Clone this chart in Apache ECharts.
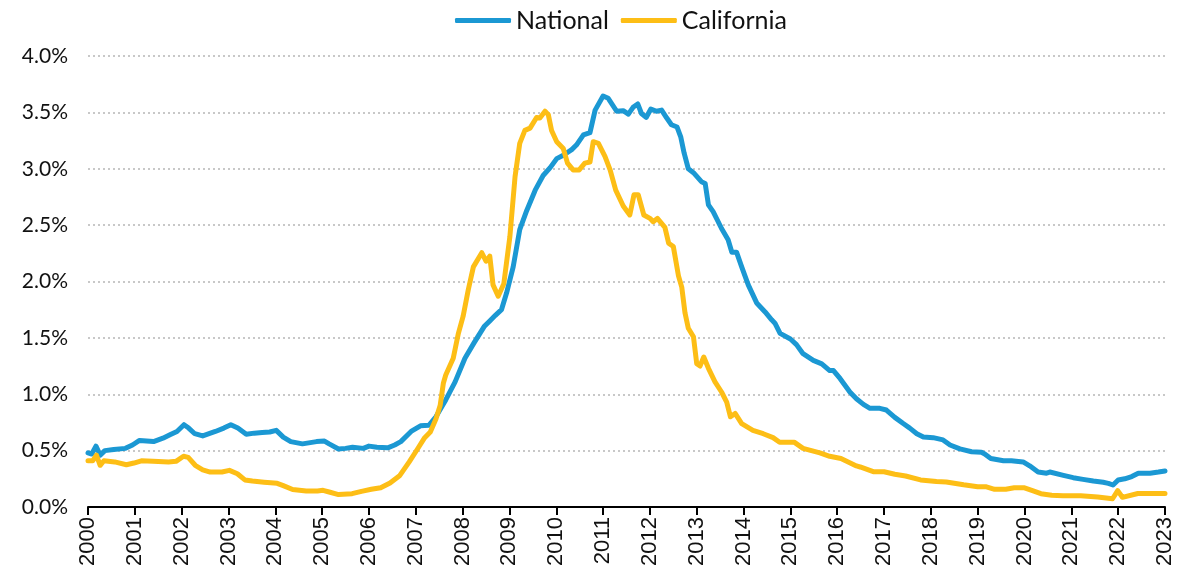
<!DOCTYPE html>
<html>
<head>
<meta charset="utf-8">
<script src="https://cdn.jsdelivr.net/npm/echarts@6/dist/echarts.min.js"></script>
<style>
  html, body { margin: 0; padding: 0; background: #fff; }
  #chart { width: 1198px; height: 576px; }
</style>
</head>
<body>
<div id="chart"></div>
<script>
// year ticks on the x axis
const yearMin = 2000;
const yearMax = 2023;

// [year, percent]
const national = [
  [2000.00,0.48],[2000.08,0.47],[2000.17,0.54],[2000.26,0.46],[2000.36,0.50],[2000.55,0.51],[2000.80,0.52],[2000.95,0.55],
  [2001.10,0.59],[2001.40,0.58],[2001.60,0.61],[2001.75,0.64],[2001.90,0.67],[2002.05,0.73],[2002.15,0.70],[2002.28,0.65],
  [2002.45,0.63],[2002.72,0.67],[2002.90,0.70],[2003.05,0.73],[2003.20,0.70],[2003.38,0.645],[2003.55,0.655],[2003.72,0.66],
  [2003.88,0.665],[2004.02,0.68],[2004.17,0.62],[2004.33,0.58],[2004.58,0.56],[2004.88,0.58],[2005.05,0.585],[2005.15,0.56],
  [2005.35,0.515],[2005.50,0.52],[2005.65,0.53],[2005.88,0.52],[2006.00,0.54],[2006.17,0.53],[2006.40,0.525],[2006.55,0.55],
  [2006.68,0.58],[2006.90,0.67],[2007.10,0.72],[2007.28,0.725],[2007.43,0.80],[2007.64,0.95],[2007.84,1.11],[2008.05,1.32],
  [2008.25,1.46],[2008.46,1.60],[2008.58,1.65],[2008.70,1.70],[2008.83,1.75],[2008.94,1.90],[2009.08,2.13],[2009.22,2.46],
  [2009.37,2.63],[2009.55,2.81],[2009.72,2.94],[2009.87,3.01],[2010.01,3.09],[2010.15,3.12],[2010.33,3.17],[2010.43,3.21],
  [2010.58,3.30],[2010.72,3.32],[2010.83,3.52],[2011.00,3.645],[2011.11,3.625],[2011.29,3.51],[2011.43,3.515],[2011.54,3.485],
  [2011.64,3.545],[2011.74,3.575],[2011.82,3.49],[2011.92,3.455],[2012.02,3.53],[2012.14,3.51],[2012.25,3.52],[2012.36,3.45],
  [2012.46,3.39],[2012.58,3.37],[2012.66,3.28],[2012.73,3.14],[2012.82,3.00],[2012.93,2.965],[2013.10,2.885],[2013.18,2.87],
  [2013.25,2.68],[2013.35,2.62],[2013.53,2.47],[2013.67,2.37],[2013.75,2.26],[2013.85,2.26],[2013.96,2.13],[2014.10,1.97],
  [2014.28,1.81],[2014.46,1.73],[2014.60,1.66],[2014.67,1.63],[2014.78,1.54],[2015.00,1.49],[2015.13,1.44],[2015.27,1.36],
  [2015.49,1.30],[2015.67,1.27],[2015.84,1.21],[2015.92,1.21],[2016.06,1.14],[2016.27,1.02],[2016.41,0.96],[2016.56,0.91],
  [2016.70,0.875],[2016.91,0.875],[2017.05,0.86],[2017.23,0.795],[2017.41,0.74],[2017.55,0.70],[2017.70,0.65],[2017.84,0.62],
  [2018.05,0.615],[2018.26,0.595],[2018.41,0.55],[2018.62,0.515],[2018.87,0.49],[2019.08,0.485],[2019.15,0.47],[2019.28,0.43],
  [2019.55,0.41],[2019.72,0.41],[2019.97,0.40],[2020.11,0.365],[2020.29,0.31],[2020.47,0.30],[2020.54,0.31],[2020.83,0.28],
  [2021.04,0.26],[2021.25,0.245],[2021.47,0.23],[2021.68,0.22],[2021.79,0.21],[2021.89,0.195],[2022.00,0.24],[2022.14,0.25],
  [2022.29,0.27],[2022.43,0.30],[2022.68,0.30],[2022.86,0.31],[2023.00,0.32]
];

const california = [
  [2000.00,0.41],[2000.10,0.41],[2000.18,0.46],[2000.26,0.37],[2000.34,0.41],[2000.57,0.40],[2000.82,0.375],[2000.98,0.39],
  [2001.14,0.41],[2001.39,0.405],[2001.72,0.40],[2001.88,0.405],[2002.04,0.45],[2002.14,0.44],[2002.29,0.37],[2002.45,0.33],
  [2002.61,0.31],[2002.86,0.31],[2003.02,0.325],[2003.19,0.295],[2003.35,0.24],[2003.51,0.23],[2003.76,0.22],[2004.04,0.21],
  [2004.17,0.19],[2004.37,0.155],[2004.66,0.142],[2004.90,0.142],[2005.02,0.148],[2005.15,0.133],[2005.35,0.11],[2005.64,0.118],
  [2005.84,0.139],[2006.05,0.157],[2006.25,0.171],[2006.45,0.213],[2006.66,0.28],[2006.86,0.40],[2007.03,0.51],[2007.19,0.615],
  [2007.31,0.665],[2007.43,0.78],[2007.52,0.90],[2007.59,1.10],[2007.64,1.17],[2007.80,1.32],[2007.91,1.54],[2008.01,1.69],
  [2008.12,1.925],[2008.23,2.13],[2008.41,2.255],[2008.50,2.18],[2008.58,2.225],[2008.65,1.97],[2008.76,1.87],[2008.88,1.98],
  [2009.01,2.40],[2009.12,2.93],[2009.22,3.225],[2009.33,3.34],[2009.44,3.36],[2009.58,3.455],[2009.65,3.45],[2009.76,3.51],
  [2009.83,3.48],[2009.90,3.34],[2010.01,3.24],[2010.15,3.18],[2010.24,3.05],[2010.36,2.99],[2010.49,2.99],[2010.61,3.05],
  [2010.72,3.06],[2010.79,3.24],[2010.90,3.225],[2011.04,3.11],[2011.15,2.99],[2011.27,2.81],[2011.43,2.67],[2011.57,2.59],
  [2011.66,2.77],[2011.75,2.77],[2011.87,2.59],[2012.00,2.56],[2012.07,2.53],[2012.16,2.56],[2012.32,2.48],[2012.40,2.34],
  [2012.50,2.31],[2012.61,2.05],[2012.68,1.95],[2012.75,1.72],[2012.82,1.585],[2012.93,1.51],[2013.00,1.27],[2013.07,1.25],
  [2013.15,1.33],[2013.25,1.23],[2013.39,1.11],[2013.53,1.02],[2013.64,0.93],[2013.72,0.80],[2013.82,0.83],[2013.96,0.74],
  [2014.20,0.68],[2014.42,0.65],[2014.63,0.615],[2014.77,0.574],[2015.08,0.575],[2015.27,0.52],[2015.63,0.48],[2015.84,0.45],
  [2016.08,0.43],[2016.41,0.364],[2016.49,0.355],[2016.77,0.313],[2017.00,0.313],[2017.23,0.29],[2017.46,0.275],[2017.78,0.24],
  [2018.12,0.226],[2018.33,0.222],[2018.70,0.197],[2019.00,0.18],[2019.17,0.18],[2019.36,0.157],[2019.60,0.157],[2019.78,0.17],
  [2020.00,0.17],[2020.17,0.145],[2020.35,0.118],[2020.58,0.105],[2020.82,0.10],[2021.20,0.099],[2021.56,0.088],[2021.88,0.073],
  [2021.99,0.145],[2022.09,0.086],[2022.42,0.12],[2023.00,0.12]
];

const blue = "#1b98d3";
const yellow = "#fdbe16";

let myChart = echarts.init(document.getElementById("chart"));

let options = {
  animation: false,
  legend: {
    top: 3,
    left: 450,
    icon: "roundRect",
    itemWidth: 56,
    itemHeight: 5,
    itemGap: 12,
    textStyle: { fontFamily: "Lato", fontSize: 25, color: "#111" },
    data: ["National", "California"],
  },
  grid: { left: 88, right: 33, top: 56, bottom: 69 },
  xAxis: {
    type: "value",
    min: yearMin,
    max: yearMax,
    interval: 1,
    axisLine: { show: true, onZero: false, lineStyle: { color: "#000", width: 2 } },
    axisTick: { show: true, length: 8, lineStyle: { color: "#000", width: 2 } },
    axisLabel: {
      rotate: 90,
      margin: 10,
      fontFamily: "Liberation Sans",
      fontSize: 22,
      color: "#111",
      formatter: (v) => String(v),
    },
    splitLine: { show: false },
  },
  yAxis: {
    type: "value",
    min: 0,
    max: 4,
    interval: 0.5,
    axisLine: { show: false },
    axisTick: { show: false },
    axisLabel: {
      margin: 20,
      fontFamily: "Lato",
      fontSize: 21,
      color: "#111",
      formatter: (v) => v.toFixed(1) + "%",
    },
    splitLine: {
      show: true,
      lineStyle: { type: [2, 3], color: "#c8c8c8", width: 2 },
    },
  },
  series: [
    {
      name: "National",
      type: "line",
      data: national,
      showSymbol: false,
      color: blue,
      lineStyle: { width: 5, color: blue, cap: "round", join: "round" },
    },
    {
      name: "California",
      type: "line",
      data: california,
      showSymbol: false,
      color: yellow,
      lineStyle: { width: 5, color: yellow, cap: "round", join: "round" },
    },
  ],
};
myChart.setOption(options);
</script>
</body>
</html>
